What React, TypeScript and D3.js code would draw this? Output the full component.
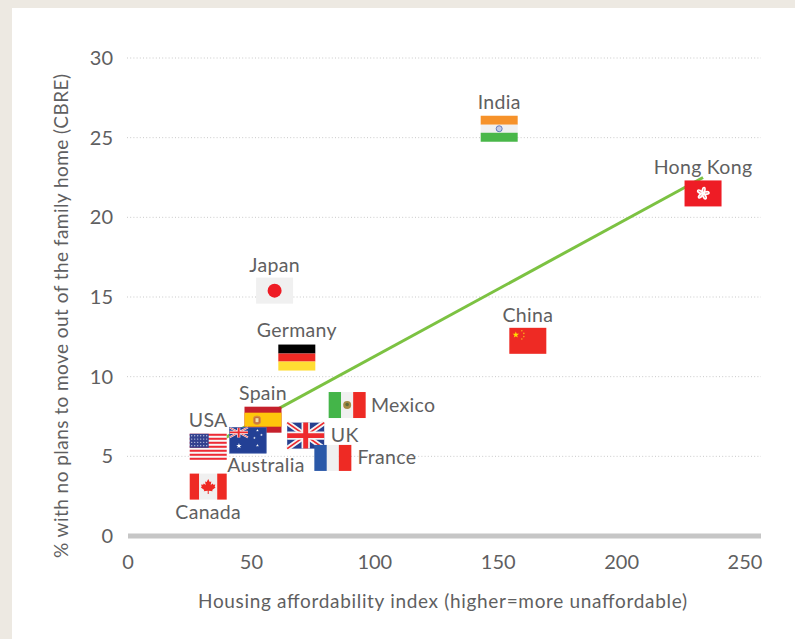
import React from "react";
import * as d3 from "d3";

const countries = ["India","Hong Kong","China","Japan","Germany","Spain","Mexico","UK","Australia","USA","France","Canada"];
const affordability = [150.4,233,162,59.4,68.4,54.7,88.8,72,48.6,32.5,83,32.5];
const noPlans = [25.56,21.5,12.25,15.4,11.2,7.3,8.22,6.3,6,5.6,4.9,3.1];
const xTicks = [0,50,100,150,200,250];
const yTicks = [0,5,10,15,20,25,30];
const trendX = [35,233];
const trendY = [5.8,22.5];
const xTitle = "Housing affordability index (higher=more unaffordable)";
const yTitle = "% with no plans to move out of the family home (CBRE)";

const W = 37, H = 26;
const INK = "#5f5f61";
const FONT = "Lato, sans-serif";
const x = d3.scaleLinear().domain([0,250]).range([128,745]);
const y = d3.scaleLinear().domain([0,30]).range([536,58]);

const labelOffset: Record<string,[number,number]> = {
  India:[0,-27],"Hong Kong":[0,-26],China:[0,-26],Japan:[0,-25],Germany:[0,-27],Spain:[0,-27],
  Mexico:[56,0],UK:[39,0],Australia:[18,25],USA:[0,-27],France:[54,-1],Canada:[0,26],
};

const star = (cx:number,cy:number,r:number,fill:string,rot=0) => {
  const p:string[]=[];
  for(let i=0;i<10;i++){const a=-Math.PI/2+rot+i*Math.PI/5;const rr=i%2?r*0.4:r;p.push(`${cx+rr*Math.cos(a)},${cy+rr*Math.sin(a)}`);}
  return <polygon points={p.join(" ")} fill={fill}/>;
};

const Union = ({w,h}:{w:number;h:number}) => (
  <g>
    <rect width={w} height={h} fill="#27408f"/>
    <path d={`M0 0L${w} ${h}M${w} 0L0 ${h}`} stroke="#f4f4f4" strokeWidth={h*0.2}/>
    <path d={`M0 0L${w} ${h}M${w} 0L0 ${h}`} stroke="#ee2a2e" strokeWidth={h*0.07}/>
    <path d={`M${w/2} 0V${h}M0 ${h/2}H${w}`} stroke="#f4f4f4" strokeWidth={h*0.32}/>
    <path d={`M${w/2} 0V${h}M0 ${h/2}H${w}`} stroke="#ee2a2e" strokeWidth={h*0.19}/>
  </g>
);

const Flag = ({name}:{name:string}) => {
  switch(name){
    case "India": return <g>
      <rect width={W} height={9} fill="#f6922a"/><rect y={9} width={W} height={8} fill="#f0f0f0"/><rect y={17} width={W} height={9} fill="#49b749"/>
      <circle cx={18.5} cy={13} r={3} fill="#c4cbe6" stroke="#5a6fb5" strokeWidth={0.9}/></g>;
    case "Hong Kong": return <g>
      <rect width={W} height={H} fill="#ee1c25"/>
      {d3.range(5).map(i=><ellipse key={i} cx={18.5} cy={9.6} rx={2.1} ry={3.4} fill="#fff" transform={`rotate(${i*72+10} 18.5 13)`}/>)}
      {d3.range(5).map(i=><line key={i} x1={18.5} y1={8} x2={18.5} y2={11} stroke="#ee1c25" strokeWidth={0.5} transform={`rotate(${i*72+10} 18.5 13)`}/>)}</g>;
    case "China": return <g>
      <rect width={W} height={H} fill="#ee2a24"/>
      {star(6.5,7,3.4,"#ffde00")}
      {[[12.5,3],[14.5,5.6],[14.5,8.8],[12.5,11.2]].map(([a,b],i)=><circle key={i} cx={a} cy={b} r={0.8} fill="#f8a51c"/>)}</g>;
    case "Japan": return <g>
      <rect width={W} height={H} fill="#f0f0f0"/><circle cx={18.5} cy={13} r={7} fill="#ee1c25"/></g>;
    case "Germany": return <g>
      <rect width={W} height={9} fill="#000"/><rect y={9} width={W} height={8} fill="#ee2a24"/><rect y={17} width={W} height={9} fill="#ffdd33"/></g>;
    case "Spain": return <g>
      <rect width={W} height={H} fill="#c5202c"/><rect y={6} width={W} height={14} fill="#ffc60b"/>
      <rect x={9} y={9.5} width={7} height={8} rx={2.5} fill="#c9703a" stroke="#d8913f" strokeWidth={1}/>
      <rect x={11} y={11.5} width={3} height={4} fill="#efe0b0"/></g>;
    case "Mexico": return <g>
      <rect width={12.5} height={H} fill="#44b549"/><rect x={12.5} width={12} height={H} fill="#f0f0f0"/><rect x={24.5} width={12.5} height={H} fill="#ee2a24"/>
      <circle cx={18.5} cy={13} r={4} fill="#a58a45"/><circle cx={18.5} cy={12.5} r={1.8} fill="#5e6b3b"/></g>;
    case "UK": return <Union w={W} h={H}/>;
    case "Australia": return <g>
      <rect width={W} height={H} fill="#234095"/>
      <Union w={18.5} h={10}/>
      {star(9.5,18.5,2.8,"#fff")}
      {[[28,3,1.5],[32,7.5,1.5],[25,10.5,1.4],[28,18,1.6]].map(([a,b,r],i)=><React.Fragment key={i}>{star(a,b,r,"#fff")}</React.Fragment>)}
      <rect x={0.25} y={0.25} width={W-0.5} height={H-0.5} fill="none" stroke="#5a76b8" strokeWidth={0.5}/></g>;
    case "USA": return <g>
      <rect width={W} height={H} fill="#f7f7f7"/>
      {d3.range(7).map(i=><rect key={i} y={i*4} width={W} height={2} fill="#ee2a35"/>)}
      <rect width={19} height={14} fill="#33418f"/>
      {d3.range(4).flatMap(r=>d3.range(6).map(c=><circle key={`${r}-${c}`} cx={2+c*3} cy={2+r*3.3} r={0.65} fill="#c8cde6"/>))}</g>;
    case "France": return <g>
      <rect width={12.5} height={H} fill="#2a58a8"/><rect x={12.5} width={12} height={H} fill="#f0f0f0"/><rect x={24.5} width={12.5} height={H} fill="#ee2a24"/></g>;
    case "Canada": return <g>
      <rect width={9.5} height={H} fill="#ee2a24"/><rect x={9.5} width={18} height={H} fill="#f0f0f0"/><rect x={27.5} width={9.5} height={H} fill="#ee2a24"/>
      <path d="M18.5 5.5L20 8.5L21.6 7.8L21 11.5L23 9.8L23.6 11.2L25.6 11L25 13.2L25.8 13.8L22.5 16.4L22.9 17.6L19 17.2L19 20.5L18 20.5L18 17.2L14.1 17.6L14.5 16.4L11.2 13.8L12 13.2L11.4 11L13.4 11.2L14 9.8L16 11.5L15.4 7.8L17 8.5Z" fill="#ee2a24"/></g>;
    default: return null;
  }
};

export default function App(){
  const line = d3.line<number>().x(v=>x(v)).y((_,i)=>y(trendY[i]));
  return (
    <svg width={795} height={639} style={{position:"fixed",left:0,top:0,display:"block"}}>
      <rect width={795} height={639} fill="#ede9e2"/>
      <rect x={12} y={8} width={783} height={631} fill="#fff"/>
      {yTicks.filter(t=>t>0).map(t=>(
        <line key={t} x1={127} x2={761} y1={y(t)} y2={y(t)} stroke="#c9c9c9" strokeWidth={1} strokeDasharray="1 2.2"/>
      ))}
      <rect x={128} y={533.5} width={633} height={5} fill="#c6c6c6"/>
      {yTicks.map(t=>(
        <text key={t} x={113} y={y(t)} dy="0.35em" textAnchor="end" fontFamily={FONT} fontSize={20} fill={INK}>{t}</text>
      ))}
      {xTicks.map(t=>(
        <text key={t} x={x(t)} y={562} dy="0.35em" textAnchor="middle" fontFamily={FONT} fontSize={20} fill={INK}>{t}</text>
      ))}
      <text x={198} y={601} dy="0.35em" textLength={489} lengthAdjust="spacing" fontFamily={FONT} fontSize={19} fill={INK}>{xTitle}</text>
      <text transform="translate(61,558) rotate(-90)" dy="0.35em" textLength={484} lengthAdjust="spacing" fontFamily={FONT} fontSize={19} fill={INK}>{yTitle}</text>
      <path d={line(trendX)!} fill="none" stroke="#7cc242" strokeWidth={3}/>
      {countries.map((c,i)=>(
        <g key={c} transform={`translate(${x(affordability[i])-W/2},${y(noPlans[i])-H/2})`}><Flag name={c}/></g>
      ))}
      {countries.map((c,i)=>(
        <text key={c} x={x(affordability[i])+labelOffset[c][0]} y={y(noPlans[i])+labelOffset[c][1]} dy="0.35em" textAnchor="middle" fontFamily={FONT} fontSize={19.5} letterSpacing={0.3} fill={INK}>{c}</text>
      ))}
    </svg>
  );
}
